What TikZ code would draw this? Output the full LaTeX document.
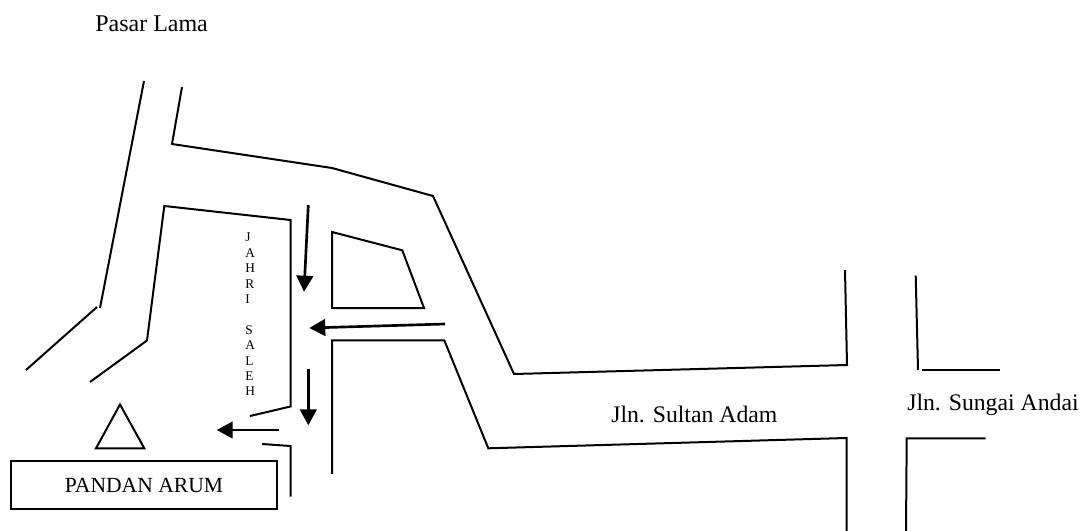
\documentclass[tikz,border=0pt]{standalone}
\usepackage{fontspec}
\setmainfont{Liberation Serif}
\usetikzlibrary{arrows.meta}
\tikzset{
  road/.style={line width=1.5pt,line join=miter,line cap=butt},
  dirarrow/.style={line width=2pt,-{Triangle[length=12pt,width=12.5pt]}},
  lbl/.style={inner sep=0pt,anchor=base west,font=\fontsize{17.8}{20}\selectfont},
}
\begin{document}
\begin{tikzpicture}[x=0.75pt,y=-0.75pt]
\useasboundingbox (0,0) rectangle (1081,531);
% roads
\draw[road] (144,81) -- (100,308);
\draw[road] (97,307) -- (26,370);
\draw[road] (182,87) -- (172,144) -- (332,168) -- (433,196) -- (514,374) -- (847,365) -- (845,270);
\draw[road] (90,382) -- (147,340.5) -- (164.3,206) -- (290.5,220) -- (290.5,406.5) -- (250,416);
\draw[road] (332,232) -- (402.3,250.3) -- (424,308) -- (332,308) -- cycle;
\draw[road] (332,474) -- (332,340.3) -- (444.3,340.3) -- (488.3,448.3) -- (846.5,438) -- (846.5,531);
\draw[road] (262,444) -- (290.5,446) -- (290.5,496.5);
\draw[road] (915.7,275.5) -- (918,370);
\draw[road] (921.7,370) -- (1000,370);
\draw[road] (906,531) -- (906.7,438.3) -- (985.7,438.3);
% landmark
\draw[road] (120,404.5) -- (144.3,448.3) -- (96,448.3) -- cycle;
\node[draw,line width=1.5pt,minimum width=266pt*0.75,minimum height=48pt*0.75,inner sep=0pt,anchor=north west,font=\fontsize{16.2}{18}\selectfont] (pandan) at (10,460) {PANDAN ARUM};
% arrows
\draw[dirarrow] (308.3,205) -- (304,291.7);
\draw[dirarrow] (445,324) -- (309.3,328);
\draw[dirarrow] (308.3,369.3) -- (308.3,425.3);
\draw[dirarrow] (279.3,430) -- (216.7,430);
% labels
\node[lbl,font=\fontsize{18}{20}\selectfont] (pasar) at (95,31.5) {Pasar Lama};
\node[lbl] (sultan) at (611,422.5) {Jln. Sultan Adam};
\node[lbl] (andai) at (907,410) {Jln. Sungai Andai};
\node[inner sep=0pt,anchor=north west,align=left,font=\fontsize{10}{11.55}\selectfont] (jahri) at (245,233) {J\\A\\H\\R\\I\\\mbox{}\\S\\A\\L\\E\\H};
\end{tikzpicture}
\end{document}
